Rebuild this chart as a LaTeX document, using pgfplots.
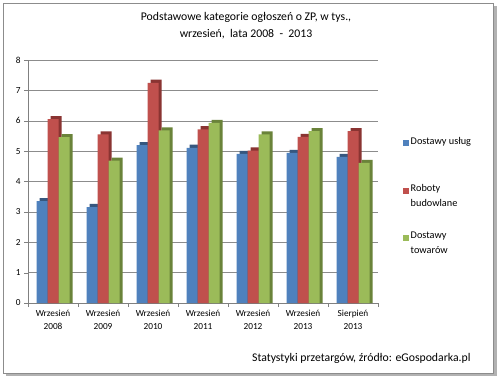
\documentclass[border=0pt]{standalone}
\usepackage{pgfplots}
\pgfplotsset{compat=1.18}
\usepackage{pgfplotstable}
\usepackage{fontspec}
\setmainfont{Carlito}
\definecolor{cblue}{HTML}{4F81BD}
\definecolor{cred}{HTML}{C0504D}
\definecolor{cgreen}{HTML}{9BBB59}
\definecolor{cblueD}{HTML}{36577F}
\definecolor{credD}{HTML}{8A3432}
\definecolor{cgreenD}{HTML}{6A833A}
\pgfplotstableread{
x uslugi roboty towary
0 3.35 6.05 5.46
1 3.16 5.55 4.69
2 5.20 7.25 5.68
3 5.11 5.72 5.93
4 4.91 5.02 5.55
5 4.94 5.47 5.66
6 4.81 5.66 4.61
}\data
\begin{document}
\begin{tikzpicture}[x=1bp,y=1bp]
\useasboundingbox (0,0) rectangle (500,377);
\fill[white] (0,0) rectangle (500,377);
\fill[black!30] (6,1) rectangle (497,371);
\draw[black!45, fill=white] (3,4) rectangle (493,374);
\node[font=\fontsize{11.8}{14}\selectfont] at (246,360) {Podstawowe kategorie ogłoszeń o ZP, w tys.,};
\node[font=\fontsize{11.8}{14}\selectfont] at (246,343) {wrzesień,\ \ lata 2008\ \ - \ 2013};
\node[font=\fontsize{11.8}{14}\selectfont, anchor=east] at (474,19) {Statystyki przetargów, źródło: eGospodarka.pl};
\begin{axis}[
  at={(28bp,74bp)}, anchor=south west,
  scale only axis, width=350bp, height=243bp,
  ybar, bar width=11bp,
  xmin=-0.5, xmax=6.5, ymin=0, ymax=8,
  xtick={0,...,6},
  xticklabels={{Wrzesień\\2008},{Wrzesień\\2009},{Wrzesień\\2010},{Wrzesień\\2011},{Wrzesień\\2012},{Wrzesień\\2013},{Sierpień\\2013}},
  xticklabel style={align=center, font=\fontsize{9.3}{12.5}\selectfont},
  minor xtick={-0.5,0.5,...,6.5},
  major x tick style={draw=none},
  minor tick length=4bp,
  ytick={0,...,8},
  yticklabel style={font=\fontsize{9.3}{11}\selectfont},
  /pgf/number format/assume math mode=true,
  tick align=outside,
  major tick length=4bp,
  axis x line*=bottom, axis y line*=left,
  axis line style={black!50},
  tick style={black!50},
  ymajorgrids, grid style={black!45},
  legend style={draw=none, fill=none, at={(1.063,0.698)}, anchor=north west,
    legend cell align=left, row sep=21.5bp,
    nodes={align=left, font=\fontsize{10.3}{14.5}\selectfont, inner sep=1.5bp}},
]
\addplot[fill=cblueD, draw=none, bar shift=-8bp, forget plot] table[x=x, y expr=\thisrow{uslugi}+0.1] {\data};
\addplot[fill=credD, draw=none, bar shift=3bp, forget plot] table[x=x, y expr=\thisrow{roboty}+0.1] {\data};
\addplot[fill=cgreenD, draw=none, bar shift=14bp, forget plot] table[x=x, y expr=\thisrow{towary}+0.1] {\data};
\addplot[fill=cblue, draw=none, bar shift=-11bp,
  legend image code/.code={\fill[cblue] (0bp,2.5bp) rectangle (6bp,8.5bp);}] table[x=x, y=uslugi] {\data};
\addplot[fill=cred, draw=none, bar shift=0bp,
  legend image code/.code={\fill[cred] (0bp,2.5bp) rectangle (6bp,8.5bp);}] table[x=x, y=roboty] {\data};
\addplot[fill=cgreen, draw=none, bar shift=11bp,
  legend image code/.code={\fill[cgreen] (0bp,2.5bp) rectangle (6bp,8.5bp);}] table[x=x, y=towary] {\data};
\legend{Dostawy usług\\\mbox{}, Roboty\\budowlane, Dostawy\\towarów}
\end{axis}
\end{tikzpicture}
\end{document}
